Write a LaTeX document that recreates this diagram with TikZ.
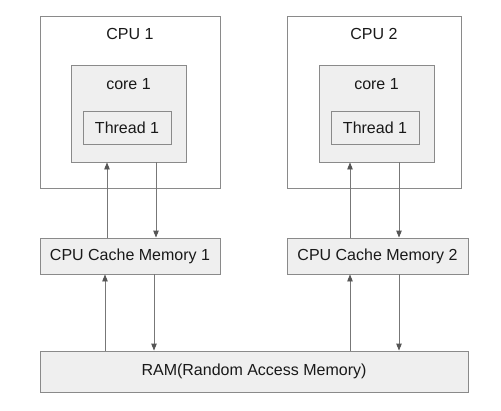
\documentclass[tikz,border=0pt]{standalone}
\usepackage{fontspec}
\setmainfont{Liberation Sans}
\usetikzlibrary{arrows.meta}
\definecolor{boxline}{HTML}{8A8A8A}
\definecolor{boxfill}{HTML}{EFEFEF}
\definecolor{arrline}{HTML}{777777}
\definecolor{arrhead}{HTML}{555555}
\tikzset{
  outer/.style={draw=boxline, line width=0.9pt, fill=white, inner sep=0pt},
  grey/.style={draw=boxline, line width=0.9pt, fill=boxfill, inner sep=0pt},
  lbl/.style={font=\fontsize{16}{19}\selectfont, text=black!90, inner sep=0pt},
  arr/.style={draw=arrline, line width=0.9pt, -{Triangle[length=7pt,width=5.5pt,color=arrhead]}}
}
\begin{document}
\begin{tikzpicture}[x=1pt,y=-1pt]
\useasboundingbox (0,0) rectangle (501,410);
% CPU 1
\node[outer, minimum width=180pt, minimum height=172pt] (cpu1) at (130,102) {};
\node[lbl] (cpu1t) at (130,34) {CPU 1};
\node[grey, minimum width=115pt, minimum height=97pt] (core1) at (128.5,113.5) {};
\node[lbl] (core1t) at (128.5,84) {core 1};
\node[grey, minimum width=88pt, minimum height=33pt, lbl] (th1) at (127,127.5) {Thread 1};
% CPU 2
\node[outer, minimum width=174pt, minimum height=172pt] (cpu2) at (374,102) {};
\node[lbl] (cpu2t) at (374,34) {CPU 2};
\node[grey, minimum width=115pt, minimum height=97pt] (core2) at (376.5,113.5) {};
\node[lbl] (core2t) at (376.5,84) {core 1};
\node[grey, minimum width=88pt, minimum height=33pt, lbl] (th2) at (375,127.5) {Thread 1};
% caches
\node[grey, lbl, minimum width=180pt, minimum height=36pt] (c1) at (130,256) {CPU Cache Memory 1};
\node[grey, lbl, minimum width=181pt, minimum height=36pt] (c2) at (377.5,256) {CPU Cache Memory 2};
% RAM
\node[grey, lbl, minimum width=428pt, minimum height=41pt] (ram) at (254,371.5) {RAM(Random Access Memory)};
% arrow x positions
\coordinate (a1) at (107,0);
\coordinate (a2) at (156,0);
\coordinate (b1) at (105,0);
\coordinate (b2) at (154,0);
\coordinate (a3) at (350,0);
\coordinate (a4) at (399,0);
% arrows
\draw[arr] (c1.north -| a1) -- (core1.south -| a1);
\draw[arr] (core1.south -| a2) -- (c1.north -| a2);
\draw[arr] (ram.north -| b1) -- (c1.south -| b1);
\draw[arr] (c1.south -| b2) -- (ram.north -| b2);
\draw[arr] (c2.north -| a3) -- (core2.south -| a3);
\draw[arr] (core2.south -| a4) -- (c2.north -| a4);
\draw[arr] (ram.north -| a3) -- (c2.south -| a3);
\draw[arr] (c2.south -| a4) -- (ram.north -| a4);
\end{tikzpicture}
\end{document}
